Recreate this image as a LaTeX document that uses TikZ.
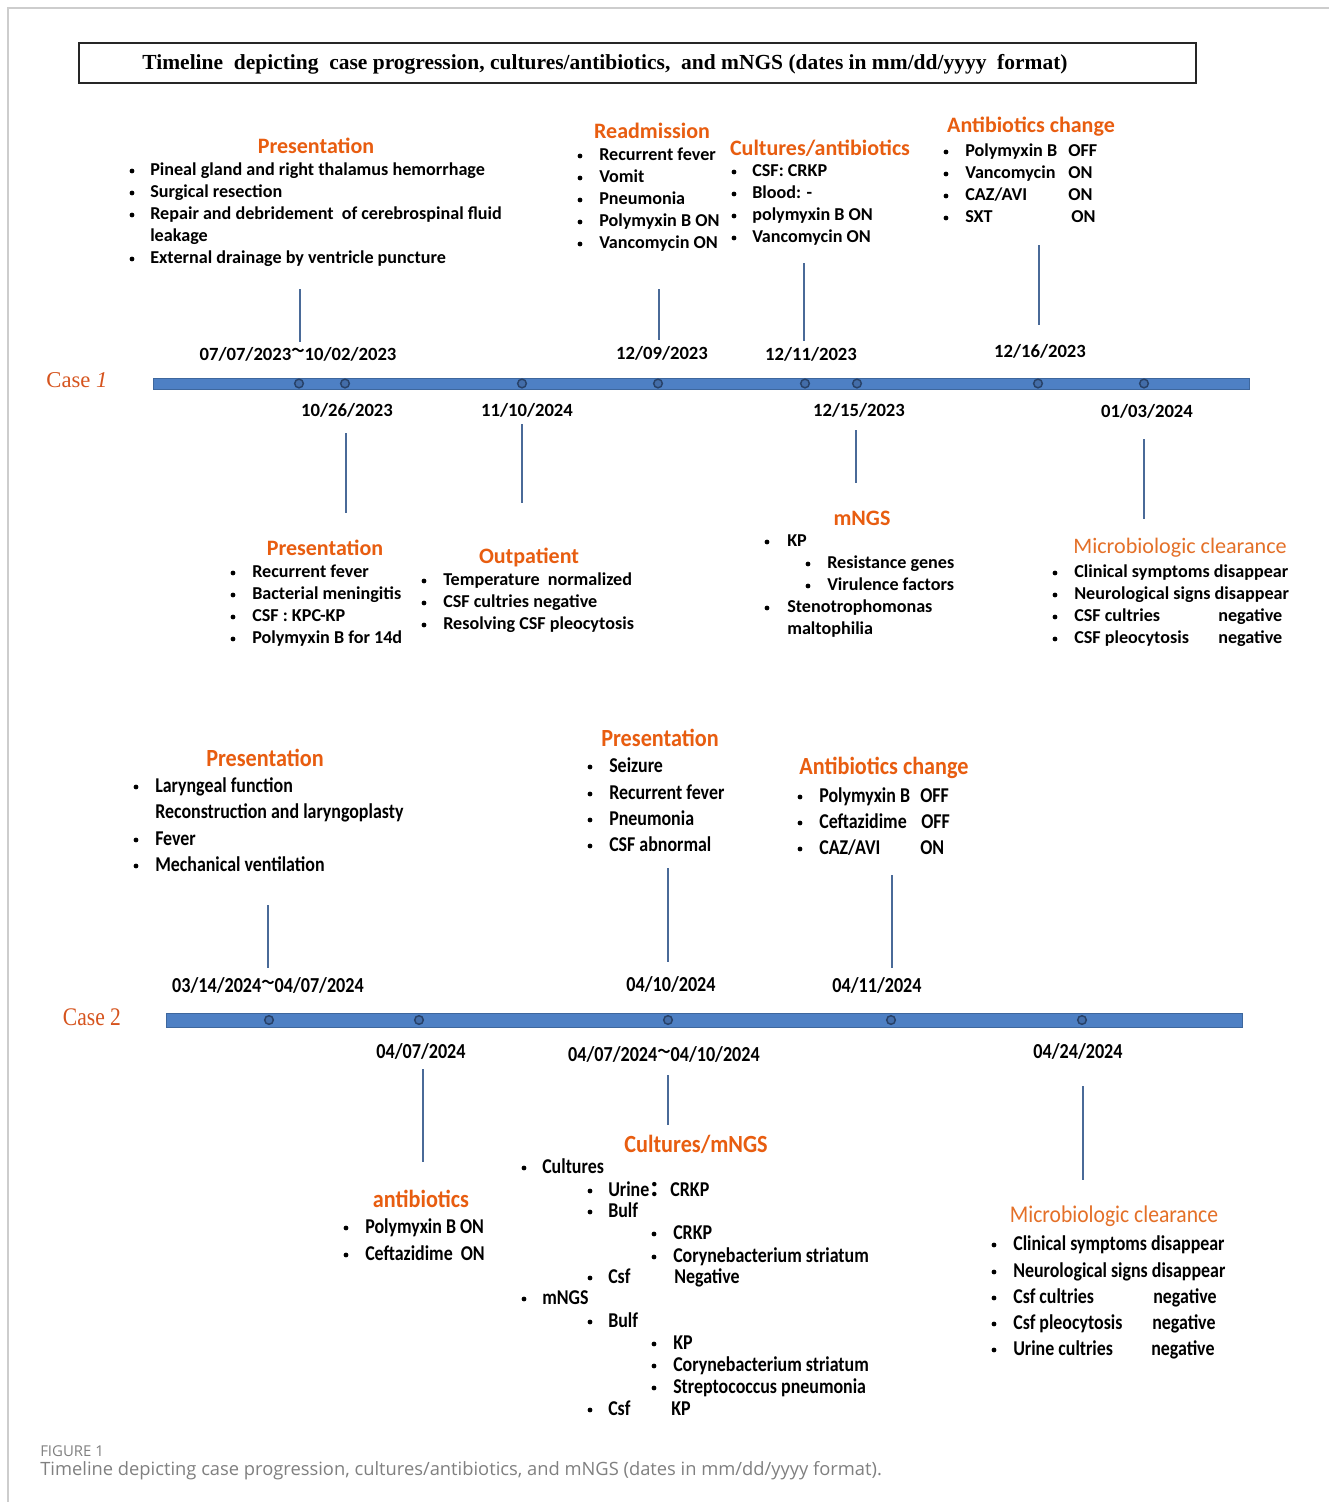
\documentclass[tikz,border=0pt]{standalone}
\usepackage{fontspec}
\setmainfont{Carlito}
\newfontfamily\ttlfont{Liberation Serif}
\newfontfamily\casefont{Liberation Serif}
\newfontfamily\casecfont[FakeStretch=0.85]{Liberation Serif}
\newfontfamily\cnd[FakeStretch=0.85]{Carlito}
\newfontfamily\cndh[FakeStretch=0.9]{Carlito}
\newfontfamily\cjk{Noto Sans CJK SC}
\newfontfamily\capfont{Open Sans}
\definecolor{hdorange}{RGB}{232,93,16}
\definecolor{mcorange}{RGB}{228,112,40}
\definecolor{caseorange}{RGB}{214,84,30}
\definecolor{barblue}{RGB}{78,128,196}
\definecolor{dotedge}{RGB}{40,66,105}
\definecolor{lncol}{RGB}{74,106,152}
\definecolor{framegray}{RGB}{205,205,205}
\newcommand\tl{{\cjk\fontsize{10}{10}\selectfont\raisebox{0.35em}{～}}}
% bullet line: style, name, bullet x, text x, y, text
\newcommand\bi[6]{\node[#1] (#2) at (#4,#5) {#6};\node[bdot] (#2d) at (#3+2,#5) {};}
\begin{document}
\begin{tikzpicture}[x=0.75pt,y=-0.75pt,
  txt/.style={anchor=west,inner sep=0pt,text height=9.5pt,text depth=3pt,font=\bfseries\fontsize{13.6}{15}\selectfont},
  txtb/.style={anchor=west,inner sep=0pt,text height=11pt,text depth=3.5pt,font=\cnd\bfseries\fontsize{15.8}{17}\selectfont},
  bdot/.style={circle,fill=black,inner sep=0pt,minimum size=3.6pt},
  hd/.style={inner sep=0pt,text=hdorange,font=\bfseries\fontsize{16.5}{18}\selectfont},
  hdb/.style={inner sep=0pt,text=hdorange,font=\cndh\bfseries\fontsize{18.5}{20}\selectfont},
  mc/.style={inner sep=0pt,text=mcorange,font=\fontsize{16.6}{18}\selectfont},
  mcb/.style={inner sep=0pt,text=mcorange,font=\cndh\fontsize{18}{20}\selectfont},
  dt/.style={inner sep=0pt,font=\bfseries\fontsize{14}{16}\selectfont},
  dtb/.style={inner sep=0pt,font=\cnd\bfseries\fontsize{16}{18}\selectfont},
  conn/.style={draw=lncol,line width=0.9pt},
  tdot/.style={circle,draw=dotedge,fill=barblue!70!dotedge,line width=1.1pt,minimum size=6.5pt,inner sep=0pt},
  caselbl/.style={inner sep=0pt,text=caseorange}
]
\useasboundingbox (0,0) rectangle (1329,1502);
\fill[white] (0,0) rectangle (1329,1502);
% outer frame
\draw[framegray,line width=0.8pt] (8,1502) -- (8,8) -- (1329,8);
% title
\draw[black!85,line width=1.1pt] (79,43) rectangle (1196,83);
\node[inner sep=0pt,font=\ttlfont\bfseries\fontsize{16.1}{18}\selectfont] (title) at (605,64) {Timeline\ \ depicting\ \ case progression, cultures/antibiotics,\ \ and mNGS (dates in mm/dd/yyyy\ \ format)};

% ================= CASE 1 =================
\node[caselbl,font=\casefont\fontsize{17}{19}\selectfont] (case1) at (77,380) {Case \textit{1}};
\fill[barblue] (153,378) rectangle (1249,389);
\draw[barblue!80!black,line width=0.4pt] (153,378) rectangle (1249,389);
\foreach \n/\x in {a/299,b/345,c/522,d/658,e/805,f/857,g/1038,h/1144}
  \node[tdot] (k1\n) at (\x,383.5) {};

% dates case 1
\node[dt] (d1a) at (298,354) {07/07/2023\tl10/02/2023};
\node[dt] (d1d) at (662,353) {12/09/2023};
\node[dt] (d1e) at (811,354) {12/11/2023};
\node[dt] (d1g) at (1040,351) {12/16/2023};
\node[dt] (d1b) at (347,410) {10/26/2023};
\node[dt] (d1c) at (527,410) {11/10/2024};
\node[dt] (d1f) at (859,410) {12/15/2023};
\node[dt] (d1h) at (1147,411) {01/03/2024};

% connectors case 1
\coordinate (c1at) at (300,289); \coordinate (c1ab) at (300,342);
\coordinate (c1dt) at (659,289); \coordinate (c1db) at (659,340);
\coordinate (c1et) at (804,263); \coordinate (c1eb) at (804,341);
\coordinate (c1gt) at (1039,245); \coordinate (c1gb) at (1039,325);
\coordinate (c1bt) at (346,433); \coordinate (c1bb) at (346,513);
\coordinate (c1ct) at (522,424); \coordinate (c1cb) at (522,503);
\coordinate (c1ft) at (856,430); \coordinate (c1fb) at (856,483);
\coordinate (c1ht) at (1144,439); \coordinate (c1hb) at (1144,519);
\foreach \n in {a,b,c,d,e,f,g,h} \draw[conn] (c1\n t) -- (c1\n b);

% Presentation (top)
\node[hd] (h1a) at (316,146) {Presentation};
\bi{txt}{p1}{130}{150}{171}{Pineal gland and right thalamus hemorrhage}
\bi{txt}{p2}{130}{150}{193}{Surgical resection}
\bi{txt}{p3}{130}{150}{215}{Repair and debridement\ \ of cerebrospinal fluid}
\node[txt] (p3b) at (150,237) {leakage};
\bi{txt}{p4}{130}{150}{259}{External drainage by ventricle puncture}

% Readmission
\node[hd] (h1d) at (652,131) {Readmission};
\bi{txt}{r1}{578}{599}{156}{Recurrent fever}
\bi{txt}{r2}{578}{599}{178}{Vomit}
\bi{txt}{r3}{578}{599}{200}{Pneumonia}
\bi{txt}{r4}{578}{599}{222}{Polymyxin B ON}
\bi{txt}{r5}{578}{599}{244}{Vancomycin ON}

% Cultures/antibiotics
\node[hd] (h1e) at (820,148) {Cultures/antibiotics};
\bi{txt}{ca1}{732}{752}{172}{CSF: CRKP}
\bi{txt}{ca2}{732}{752}{194}{Blood: -}
\bi{txt}{ca3}{732}{752}{216}{polymyxin B ON}
\bi{txt}{ca4}{732}{752}{238}{Vancomycin ON}

% Antibiotics change
\node[hd] (h1g) at (1031,127) {Antibiotics change};
\bi{txt}{ac1}{944}{965}{152}{Polymyxin B}
\bi{txt}{ac2}{944}{965}{174}{Vancomycin}
\bi{txt}{ac3}{944}{965}{196}{CAZ/AVI}
\bi{txt}{ac4}{944}{965}{218}{SXT}
\node[txt] (ac1v) at (1068,152) {OFF};
\node[txt] (ac2v) at (1068,174) {ON};
\node[txt] (ac3v) at (1068,196) {ON};
\node[txt] (ac4v) at (1071,218) {ON};

% Presentation (bottom)
\node[hd] (h1b) at (325,548) {Presentation};
\bi{txt}{q1}{231}{252}{573}{Recurrent fever}
\bi{txt}{q2}{231}{252}{595}{Bacterial meningitis}
\bi{txt}{q3}{231}{252}{617}{CSF : KPC-KP}
\bi{txt}{q4}{231}{252}{639}{Polymyxin B for 14d}

% Outpatient
\node[hd] (h1c) at (529,557) {Outpatient};
\bi{txt}{o1}{422}{443}{581}{Temperature\ \ normalized}
\bi{txt}{o2}{422}{443}{603}{CSF cultries negative}
\bi{txt}{o3}{422}{443}{625}{Resolving CSF pleocytosis}

% mNGS
\node[hd] (h1f) at (862,518) {mNGS};
\bi{txt}{m1}{765}{787}{542}{KP}
\bi{txt}{m2}{806}{827}{564}{Resistance genes}
\bi{txt}{m3}{806}{827}{586}{Virulence factors}
\bi{txt}{m4}{765}{787}{608}{Stenotrophomonas}
\node[txt] (m4b) at (787,630) {maltophilia};

% Microbiologic clearance (case 1)
\node[mc] (h1h) at (1180,548) {Microbiologic clearance};
\bi{txt}{mc1}{1053}{1074}{573}{Clinical symptoms disappear}
\bi{txt}{mc2}{1053}{1074}{595}{Neurological signs disappear}
\bi{txt}{mc3}{1053}{1074}{617}{CSF cultries}
\bi{txt}{mc4}{1053}{1074}{639}{CSF pleocytosis}
\node[txt] (mc3v) at (1218,617) {negative};
\node[txt] (mc4v) at (1218,639) {negative};

% ================= CASE 2 =================
\node[caselbl,font=\casecfont\fontsize{19}{21}\selectfont] (case2) at (92,1017) {Case 2};
\fill[barblue] (166,1013) rectangle (1242,1027);
\draw[barblue!80!black,line width=0.4pt] (166,1013) rectangle (1242,1027);
\foreach \n/\x in {a/269,b/419,c/668,d/891,e/1082}
  \node[tdot] (k2\n) at (\x,1020) {};

% dates case 2
\node[dtb] (d2a) at (268,985) {03/14/2024\tl04/07/2024};
\node[dtb] (d2c) at (671,984) {04/10/2024};
\node[dtb] (d2d) at (877,985) {04/11/2024};
\node[dtb] (d2b) at (421,1051) {04/07/2024};
\node[dtb] (d2cc) at (664,1054) {04/07/2024\tl04/10/2024};
\node[dtb] (d2e) at (1078,1051) {04/24/2024};

% connectors case 2
\coordinate (c2at) at (268,905); \coordinate (c2ab) at (268,968);
\coordinate (c2ct) at (668,868); \coordinate (c2cb) at (668,962);
\coordinate (c2dt) at (892,875); \coordinate (c2db) at (892,968);
\coordinate (c2bt) at (423,1069); \coordinate (c2bb) at (423,1162);
\coordinate (c2et) at (668,1075); \coordinate (c2eb) at (668,1125);
\coordinate (c2ft) at (1083,1086); \coordinate (c2fb) at (1083,1180);
\foreach \n in {a,b,c,d,e,f} \draw[conn] (c2\n t) -- (c2\n b);

% Presentation (case 2, left)
\node[hdb] (h2a) at (265,758) {Presentation};
\bi{txtb}{s1}{134}{155}{787}{Laryngeal function}
\node[txtb] (s1b) at (155,813) {Reconstruction and laryngoplasty};
\bi{txtb}{s2}{134}{155}{840}{Fever}
\bi{txtb}{s3}{134}{155}{866}{Mechanical ventilation}

% Presentation (case 2, middle)
\node[hdb] (h2c) at (660,738) {Presentation};
\bi{txtb}{u1}{588}{609}{767}{Seizure}
\bi{txtb}{u2}{588}{609}{794}{Recurrent fever}
\bi{txtb}{u3}{588}{609}{820}{Pneumonia}
\bi{txtb}{u4}{588}{609}{846}{CSF abnormal}

% Antibiotics change (case 2)
\node[hdb] (h2d) at (884,768) {Antibiotics change};
\bi{txtb}{v1}{798}{819}{797}{Polymyxin B}
\bi{txtb}{v2}{798}{819}{823}{Ceftazidime}
\bi{txtb}{v3}{798}{819}{849}{CAZ/AVI}
\node[txtb] (v1v) at (920,797) {OFF};
\node[txtb] (v2v) at (921,823) {OFF};
\node[txtb] (v3v) at (920,849) {ON};

% antibiotics (case 2)
\node[hdb] (h2b) at (421,1199) {antibiotics};
\bi{txtb}{w1}{344}{365}{1228}{Polymyxin B ON}
\bi{txtb}{w2}{344}{365}{1255}{Ceftazidime\ \ ON}

% Cultures/mNGS
\node[hdb] (h2e) at (696,1144) {Cultures/mNGS};
\bi{txtb}{x1}{522}{542}{1168}{Cultures}
\bi{txtb}{x2}{588}{608}{1191}{Urine{\cjk ：}CRKP}
\bi{txtb}{x3}{588}{608}{1212}{Bulf}
\bi{txtb}{x4}{652}{673}{1234}{CRKP}
\bi{txtb}{x5}{652}{673}{1257}{Corynebacterium striatum}
\bi{txtb}{x6}{588}{608}{1278}{Csf}
\node[txtb] (x6v) at (674,1278) {Negative};
\bi{txtb}{y1}{522}{542}{1299}{mNGS}
\bi{txtb}{y2}{588}{608}{1322}{Bulf}
\bi{txtb}{y3}{652}{673}{1344}{KP}
\bi{txtb}{y4}{652}{673}{1366}{Corynebacterium striatum}
\bi{txtb}{y5}{652}{673}{1388}{Streptococcus pneumonia}
\bi{txtb}{y6}{588}{608}{1410}{Csf}
\node[txtb] (y6v) at (671,1410) {KP};

% Microbiologic clearance (case 2)
\node[mcb] (h2f) at (1114,1216) {Microbiologic clearance};
\bi{txtb}{z1}{992}{1013}{1245}{Clinical symptoms disappear}
\bi{txtb}{z2}{992}{1013}{1272}{Neurological signs disappear}
\bi{txtb}{z3}{992}{1013}{1298}{Csf cultries}
\bi{txtb}{z4}{992}{1013}{1324}{Csf pleocytosis}
\bi{txtb}{z5}{992}{1013}{1350}{Urine cultries}
\node[txtb] (z3v) at (1153,1298) {negative};
\node[txtb] (z4v) at (1152,1324) {negative};
\node[txtb] (z5v) at (1151,1350) {negative};

% caption
\node[anchor=west,inner sep=0pt,text=black!50,font=\capfont\fontsize{11.2}{13}\selectfont] (fig) at (40,1451) {FIGURE 1};
\node[anchor=west,inner sep=0pt,text=black!50,font=\capfont\fontsize{13.75}{16}\selectfont] (cap) at (40,1471) {Timeline depicting case progression, cultures/antibiotics, and mNGS (dates in mm/dd/yyyy format).};
\end{tikzpicture}
\end{document}
